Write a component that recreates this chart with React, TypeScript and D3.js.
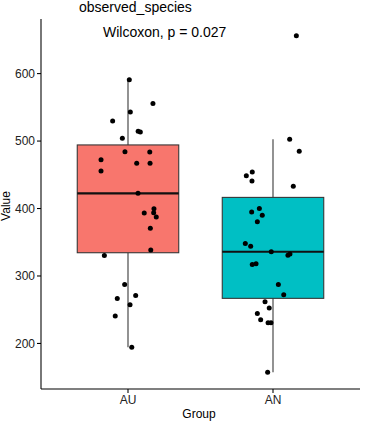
import React from "react";
import * as d3 from "d3";

const groups = ["AU", "AN"];
const fills = ["#F8766D", "#00BFC4"];
const auValues = [590.7, 555.5, 543.2, 529.8, 514.5, 513.3, 504.2, 484.3, 483.8, 472.4, 467.1, 467.1, 455.6, 422.5, 399.7, 393.3, 393.8, 387.4, 370.6, 338.4, 330.5, 287.5, 266.8, 271.2, 257.3, 240.5, 194.5];
const auJitter = [0.009, 0.172, 0.016, -0.106, 0.07, 0.085, -0.039, -0.021, 0.15, -0.186, 0.06, 0.152, -0.186, 0.069, 0.179, 0.112, 0.177, 0.195, 0.154, 0.157, -0.163, -0.023, -0.074, 0.053, 0.014, -0.088, 0.026];
const anValues = [656, 502.7, 485, 454, 448.7, 440.8, 433, 400, 395, 390, 380.4, 348, 344, 336, 330.6, 332.5, 317.2, 318.1, 287.5, 272, 261.7, 252.4, 244.5, 235, 230.6, 230.6, 157.4];
const anJitter = [0.161, 0.115, 0.181, -0.143, -0.184, -0.145, 0.14, -0.094, -0.147, -0.074, -0.108, -0.191, -0.154, -0.012, 0.103, 0.117, -0.143, -0.117, 0.037, 0.074, -0.055, -0.026, -0.108, -0.085, -0.034, -0.014, -0.037];
const yTicks = [200, 300, 400, 500, 600];
const titleText = "observed_species";
const statText = "Wilcoxon, p = 0.027";

const W = 368, H = 424;
const FONT = "'Liberation Sans', Arial, sans-serif";

export default function App() {
  const series = [
    { name: groups[0], values: auValues, jitter: auJitter, fill: fills[0] },
    { name: groups[1], values: anValues, jitter: anJitter, fill: fills[1] },
  ];
  const all = [...auValues, ...anValues];
  const [mn, mx] = d3.extent(all) as [number, number];
  const pad = (mx - mn) * 0.05;
  const left = 41, right = 360, top = 19, bottom = 389;
  const y = d3.scaleLinear().domain([mn - pad, mx + pad]).range([bottom, top]);
  const x = d3.scaleLinear().domain([0.4, groups.length + 0.6]).range([left, right]);
  const unit = x(1) - x(0);
  const boxW = 0.7 * unit;

  const stats = series.map((s) => {
    const sorted = [...s.values].sort(d3.ascending);
    const q1 = d3.quantile(sorted, 0.25)!;
    const med = d3.quantile(sorted, 0.5)!;
    const q3 = d3.quantile(sorted, 0.75)!;
    const iqr = q3 - q1;
    const lo = d3.min(sorted.filter((v) => v >= q1 - 1.5 * iqr))!;
    const hi = d3.max(sorted.filter((v) => v <= q3 + 1.5 * iqr))!;
    return { q1, med, q3, lo, hi };
  });

  return (
    <svg width={W} height={H} style={{ position: "absolute", left: 0, top: 0, background: "#fff" }} fontFamily={FONT}>
      <rect x={0} y={0} width={W} height={H} fill="#fff" />
      <text x={79} y={12} fontSize={14} fill="#000">{titleText}</text>
      {series.map((s, i) => {
        const cx = x(i + 1);
        const st = stats[i];
        return (
          <g key={s.name}>
            <line x1={cx} x2={cx} y1={y(st.q3)} y2={y(st.hi)} stroke="#333" strokeWidth={1.07} />
            <line x1={cx} x2={cx} y1={y(st.q1)} y2={y(st.lo)} stroke="#333" strokeWidth={1.07} />
            <rect x={cx - boxW / 2} y={y(st.q3)} width={boxW} height={y(st.q1) - y(st.q3)} fill={s.fill} stroke="#333" strokeWidth={1.07} />
            <line x1={cx - boxW / 2} x2={cx + boxW / 2} y1={y(st.med)} y2={y(st.med)} stroke="#111" strokeWidth={2.1} />
          </g>
        );
      })}
      {series.map((s, i) =>
        s.values.map((v, j) => (
          <circle key={s.name + j} cx={x(i + 1 + s.jitter[j])} cy={y(v)} r={2.5} fill="#000" />
        ))
      )}
      <text x={103} y={37} fontSize={14} fill="#000">{statText}</text>
      {/* axes */}
      <line x1={left} x2={left} y1={top} y2={bottom} stroke="#000" strokeWidth={1.07} />
      <line x1={left} x2={right} y1={bottom} y2={bottom} stroke="#000" strokeWidth={1.07} />
      {yTicks.map((t) => (
        <g key={t}>
          <line x1={left - 4} x2={left} y1={y(t)} y2={y(t)} stroke="#000" strokeWidth={1.07} />
          <text x={left - 6} y={y(t)} dy="0.35em" textAnchor="end" fontSize={12} fill="#222">{t}</text>
        </g>
      ))}
      {groups.map((g, i) => (
        <g key={g}>
          <line x1={x(i + 1)} x2={x(i + 1)} y1={bottom} y2={bottom + 4} stroke="#000" strokeWidth={1.07} />
          <text x={x(i + 1)} y={bottom + 15} textAnchor="middle" fontSize={12} fill="#222">{g}</text>
        </g>
      ))}
      <text x={199} y={418} textAnchor="middle" fontSize={12} fill="#000">Group</text>
      <text transform={`translate(10, ${(top + bottom) / 2 + 2}) rotate(-90)`} textAnchor="middle" fontSize={12} fill="#000">Value</text>
    </svg>
  );
}
